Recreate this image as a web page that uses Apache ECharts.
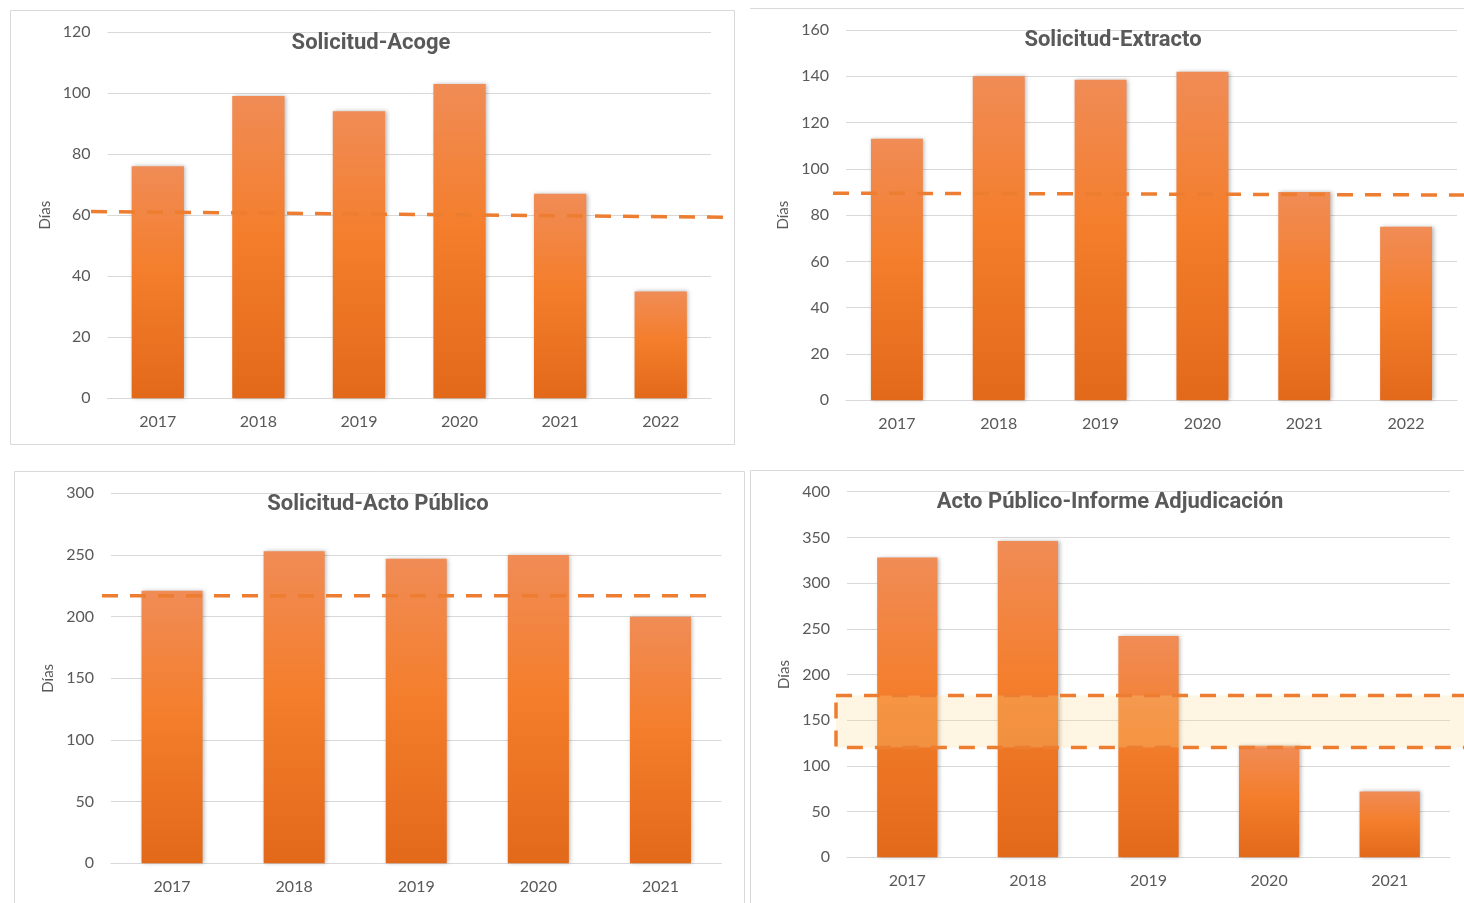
<!DOCTYPE html>
<html>
<head>
<meta charset="utf-8">
<title>Plazos de tramitación</title>
<script src="https://cdn.jsdelivr.net/npm/echarts@6/dist/echarts.min.js"></script>
<style>
  html, body { margin: 0; padding: 0; background: #ffffff; }
  #chart { width: 1464px; height: 903px; }
</style>
</head>
<body>
<div id="chart"></div>
<script>
// ---- data ----
const yearsA = ['2017', '2018', '2019', '2020', '2021', '2022'];
const yearsB = ['2017', '2018', '2019', '2020', '2021'];

const solicitudAcoge = [76, 99, 94, 103, 67, 35];
const solicitudAcogeRef = [61.2, 59.3];          // dashed reference, left end / right end

const solicitudExtracto = [113, 140, 138.5, 142, 90, 75];
const solicitudExtractoRef = [89.5, 88.7];

const solicitudActo = [221, 253, 247, 250, 200];
const solicitudActoRef = [217, 217];

const actoInforme = [328, 346, 242, 122, 72];
const actoInformeBand = [120, 177];               // lower / upper limit of shaded band

const titles = ['Solicitud-Acoge', 'Solicitud-Extracto', 'Solicitud-Acto Público', 'Acto Público-Informe Adjudicación'];
const axisName = 'Días';

// ---- styles ----
const FONT = 'Lato, "Open Sans", sans-serif';
const TITLE_FONT = 'Roboto, Lato, sans-serif';
const TEXT = '#595959';
const GRID_LINE = '#D9D9D9';
const ORANGE = '#ED7D31';

const barFill = new echarts.graphic.LinearGradient(0, 0, 0, 1, [
  { offset: 0, color: '#F08C56' },
  { offset: 0.45, color: '#F47E2C' },
  { offset: 1, color: '#E2691A' }
]);

const panels = [
  { cats: yearsA, values: solicitudAcoge, ref: solicitudAcogeRef, max: 120, step: 20,
    grid: { left: 107.5, right: 753, top: 32, bottom: 504.7 },
    over: { left: 91, right: 736 }, gap: '48%',
    title: { x: 366, y: 27 } },
  { cats: yearsA, values: solicitudExtracto, ref: solicitudExtractoRef, max: 160, step: 20,
    grid: { left: 846, right: 7, top: 30, bottom: 502.7 },
    over: { left: 833, right: 0 }, gap: '49%',
    title: { x: 1108, y: 24 } },
  { cats: yearsB, values: solicitudActo, ref: solicitudActoRef, max: 300, step: 50,
    grid: { left: 111, right: 742.5, top: 493.3, bottom: 39.7 },
    over: { left: 102, right: 750 }, gap: '50%',
    title: { x: 373, y: 488 } },
  { cats: yearsB, values: actoInforme, band: actoInformeBand, max: 400, step: 50,
    grid: { left: 847, right: 14, top: 491.7, bottom: 45.7 },
    over: { left: 836, right: 0 }, gap: '50%',
    title: { x: 1105, y: 486 } }
];

const option = {
  backgroundColor: '#ffffff',
  animation: false,
  textStyle: { fontFamily: FONT },
  title: [], grid: [], xAxis: [], yAxis: [], series: [],
  graphic: [
    // panel frames
    { type: 'rect', shape: { x: 10.5, y: 10.5, width: 724, height: 434 }, style: { fill: 'none', stroke: '#D9D9D9', lineWidth: 1 }, z: -1 },
    { type: 'line', shape: { x1: 750, y1: 8.5, x2: 1464, y2: 8.5 }, style: { stroke: '#D9D9D9', lineWidth: 1 }, z: -1 },
    { type: 'rect', shape: { x: 14.5, y: 471.5, width: 730, height: 440 }, style: { fill: 'none', stroke: '#D9D9D9', lineWidth: 1 }, z: -1 },
    { type: 'polyline', shape: { points: [[750.5, 910], [750.5, 470.5], [1464, 470.5]] }, style: { fill: 'none', stroke: '#D9D9D9', lineWidth: 1 }, z: -1 }
  ]
};

panels.forEach(function (p, i) {
  const gMain = i * 2, gOver = i * 2 + 1;

  option.title.push({
    text: titles[i], left: p.title.x, top: p.title.y, textAlign: 'center',
    textStyle: { fontFamily: TITLE_FONT, fontSize: 22, fontWeight: 'bold', color: TEXT }
  });

  option.grid.push(Object.assign({ containLabel: false }, p.grid));
  option.grid.push({ left: p.over.left, right: p.over.right, top: p.grid.top, bottom: p.grid.bottom, containLabel: false });

  option.xAxis.push({
    type: 'category', gridIndex: gMain, data: p.cats,
    axisLine: { show: true, lineStyle: { color: GRID_LINE, width: 1 } },
    axisTick: { show: false },
    axisLabel: { color: TEXT, fontFamily: FONT, fontSize: 16, margin: 16 }
  });
  option.xAxis.push({ type: 'value', gridIndex: gOver, min: 0, max: 1, show: false });

  option.yAxis.push({
    type: 'value', gridIndex: gMain, min: 0, max: p.max, interval: p.step,
    name: axisName, nameLocation: 'middle', nameGap: 55, nameRotate: 90,
    nameTextStyle: { color: TEXT, fontFamily: FONT, fontSize: 15 },
    axisLine: { show: false }, axisTick: { show: false },
    axisLabel: { color: TEXT, fontFamily: FONT, fontSize: 16, margin: 17 },
    splitLine: { show: true, lineStyle: { color: GRID_LINE, width: 1 } }
  });
  option.yAxis.push({ type: 'value', gridIndex: gOver, min: 0, max: p.max, show: false, splitLine: { show: false } });

  option.series.push({
    type: 'bar', name: titles[i], xAxisIndex: gMain, yAxisIndex: gMain,
    data: p.values, barCategoryGap: p.gap, z: 2,
    itemStyle: {
      color: barFill,
      shadowColor: 'rgba(0,0,0,0.28)', shadowBlur: 4, shadowOffsetX: 1.5, shadowOffsetY: 0
    }
  });

  if (p.ref) {
    option.series.push({
      type: 'line', xAxisIndex: gOver, yAxisIndex: gOver, z: 5,
      data: [[0, p.ref[0]], [1, p.ref[1]]],
      symbol: 'none', silent: true,
      lineStyle: { color: ORANGE, width: 3.5, type: [16, 12], cap: 'butt' }
    });
  }

  if (p.band) {
    // shaded band; its right side runs on past the page edge
    option.series.push({
      type: 'custom', xAxisIndex: gOver, yAxisIndex: gOver, z: 5, silent: true, clip: false,
      data: [[0, 1.05, p.band[0], p.band[1]]],
      renderItem: function (params, api) {
        const a = api.coord([api.value(0), api.value(3)]);
        const b = api.coord([api.value(1), api.value(2)]);
        return {
          type: 'rect',
          shape: { x: a[0], y: a[1], width: b[0] - a[0], height: b[1] - a[1] },
          style: {
            fill: 'rgba(251,219,139,0.25)',
            stroke: ORANGE, lineWidth: 3.5, lineDash: [16, 12]
          }
        };
      }
    });
  }
});

const chart = echarts.init(document.getElementById('chart'), null, { renderer: 'canvas' });
chart.setOption(option);
</script>
</body>
</html>
